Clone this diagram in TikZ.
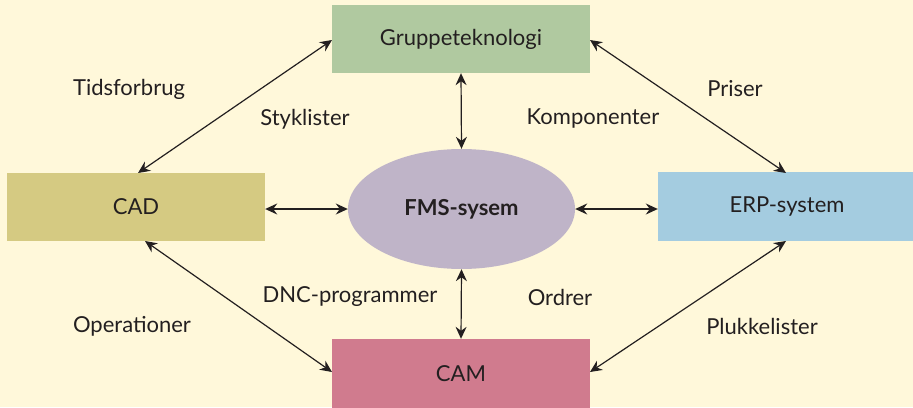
\documentclass[tikz,border=0pt]{standalone}
\usepackage{fontspec}
\setmainfont{Lato}
\usetikzlibrary{arrows.meta,shapes.geometric}
\definecolor{bg}{RGB}{255,248,218}
\definecolor{cgreen}{RGB}{176,201,160}
\definecolor{cyellow}{RGB}{213,202,130}
\definecolor{cblue}{RGB}{164,204,224}
\definecolor{cpink}{RGB}{208,123,142}
\definecolor{cviolet}{RGB}{191,180,200}
\definecolor{ink}{RGB}{35,31,32}
\begin{document}
\begin{tikzpicture}[x=1pt,y=-1pt,
  box/.style={draw=none,inner sep=0pt,font=\fontsize{22}{26}\selectfont,text=ink},
  lbl/.style={font=\fontsize{22}{26}\selectfont,text=ink,inner sep=0pt},
  conn/.style={draw=ink,line width=1.2pt,{Stealth[length=12pt,width=11pt,inset=4pt]}-{Stealth[length=12pt,width=11pt,inset=4pt]}}]
\fill[bg] (0,0) rectangle (913,407);
\useasboundingbox (0,0) rectangle (913,407);
\node[box,fill=cgreen,minimum width=258pt,minimum height=68pt] (g) at (461,39) {Gruppeteknologi};
\node[box,fill=cyellow,minimum width=258pt,minimum height=68pt] (cad) at (136,207) {CAD};
\node[box,fill=cblue,minimum width=258pt,minimum height=69pt] (erp) at (787,206.5) {ERP-system};
\node[box,fill=cpink,minimum width=258pt,minimum height=69pt] (cam) at (461,373.5) {CAM};
\node[ellipse,fill=cviolet,minimum width=227pt,minimum height=120pt,inner sep=0pt,font=\bfseries\fontsize{22}{26}\selectfont,text=ink] (fms) at (461.5,209) {FMS-sysem};
\coordinate (gL) at (332,40);
\coordinate (gR) at (590,40);
\coordinate (cadT) at (138,173);
\coordinate (cadB) at (145,241);
\coordinate (erpT) at (786,173);
\coordinate (erpB) at (786,241);
\coordinate (camL) at (332,372);
\coordinate (camR) at (590,372);
\draw[conn] (gL) -- (cadT);
\draw[conn] (gR) -- (erpT);
\draw[conn] (cadB) -- (camL);
\draw[conn] (erpB) -- (camR);
\draw[conn] (cad.east |- fms) -- (fms.west);
\draw[conn] (fms.east) -- (erp.west |- fms);
\draw[conn] (g.south) -- (fms.north);
\draw[conn] (fms.south) -- (cam.north);
\node[lbl] (t1) at (129,89) {Tidsforbrug};
\node[lbl] (t2) at (305,119) {Styklister};
\node[lbl] (t3) at (593,119) {Komponenter};
\node[lbl] (t4) at (735,89) {Priser};
\node[lbl] (t5) at (350,297) {DNC-programmer};
\node[lbl] (t6) at (560,297) {Ordrer};
\node[lbl] (t7) at (132,326) {Operationer};
\node[lbl] (t8) at (762,326) {Plukkelister};
\end{tikzpicture}
\end{document}
